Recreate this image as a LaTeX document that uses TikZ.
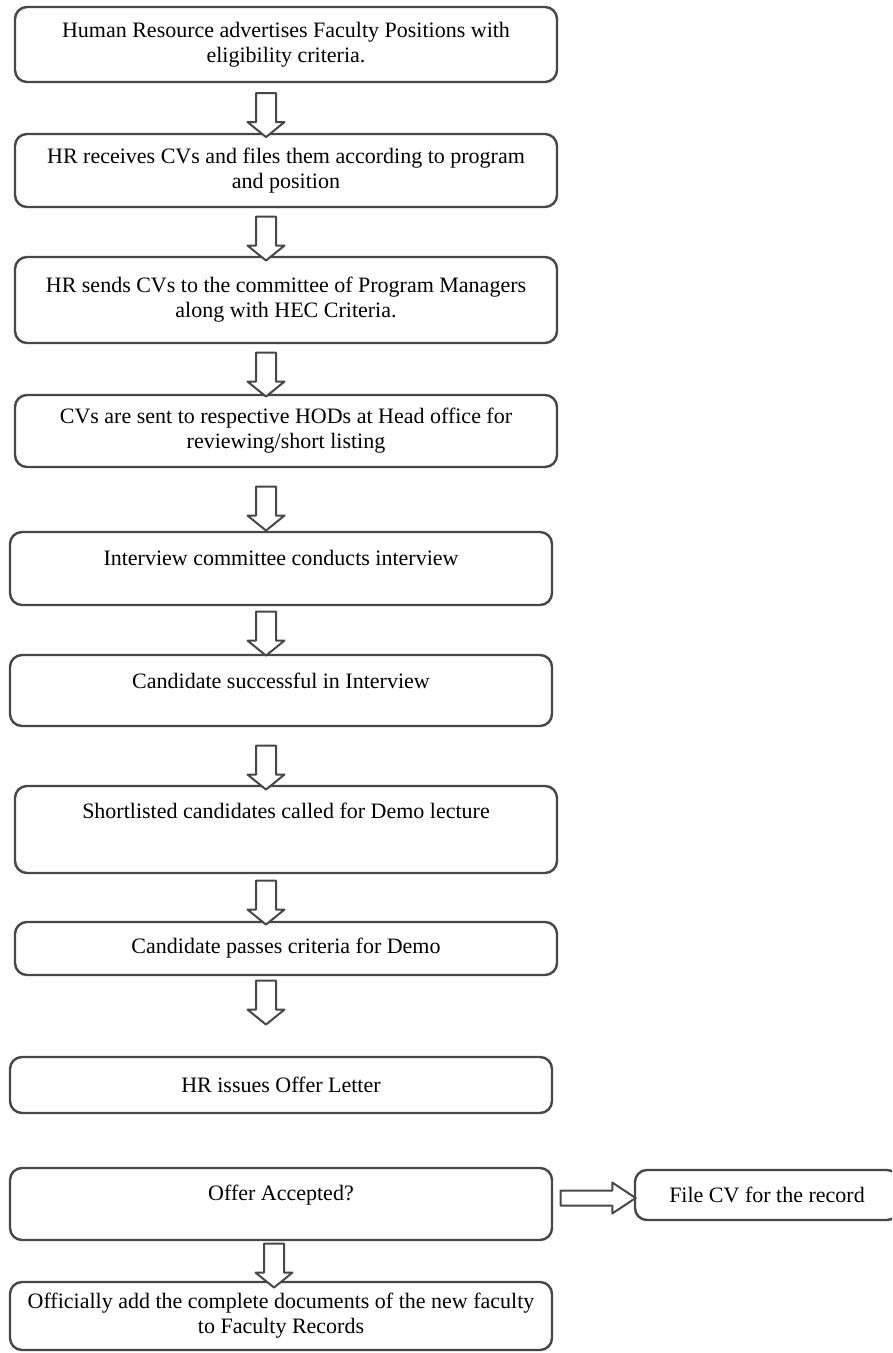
\documentclass[tikz,border=0pt]{standalone}
\usepackage{fontspec}
\setmainfont{Liberation Serif}
\usepackage{tikz}
\usetikzlibrary{calc}
\usetikzlibrary{arrows}
\usetikzlibrary{shapes}

\begin{document}
\begin{tikzpicture}[x=0.5bp,y=-0.5bp,line join=round,
    box/.style={draw=black!72,line width=1.2bp,rounded corners=6bp,fill=white,
        minimum width=271bp,align=center,inner sep=2bp,
        font=\fontsize{11bp}{12.5bp}\selectfont},
    raised/.style={text height=7.7bp,text depth=#1},
    darr/.style={draw=black!72,line width=1bp,fill=white,single arrow,
        shape border rotate=270,minimum width=17.5bp,minimum height=22bp,
        single arrow head extend=4.25bp,single arrow tip angle=102,inner sep=4.5bp},
    rarr/.style={draw=black!72,line width=1bp,fill=white,single arrow,
        minimum width=14.5bp,minimum height=37.5bp,
        single arrow head extend=4bp,single arrow tip angle=67,inner sep=3.25bp}]
    \useasboundingbox (0,0) rectangle (892,1353);
    \clip (0,0) rectangle (892,1353);
    %%
    % Node: advertise
    \node[box,minimum height=37.5bp] (advertise) at (286,44.5)
        {Human Resource advertises Faculty Positions with\\ eligibility criteria.};
    % Node: receive
    \node[box,minimum height=36.5bp] (receive) at (286,170.5)
        {HR receives CVs and files them according to program\\ and position};
    % Node: send
    \node[box,minimum height=43bp] (send) at (286,300)
        {HR sends CVs to the committee of Program Managers\\ along with HEC Criteria.};
    % Node: review
    \node[box,minimum height=36bp] (review) at (286,431)
        {CVs are sent to respective HODs at Head office for\\ reviewing/short listing};
    % Node: interview
    \node[box,raised=10.4bp,minimum height=36.5bp] (interview) at (281,568.5)
        {Interview committee conducts interview};
    % Node: success
    \node[box,raised=9.4bp,minimum height=35.5bp] (success) at (281,690.5)
        {Candidate successful in Interview};
    % Node: demo
    \node[box,raised=18.4bp,minimum height=43.5bp] (demo) at (286,829.5)
        {Shortlisted candidates called for Demo lecture};
    % Node: passes
    \node[box,minimum height=26.5bp] (passes) at (286,948.5)
        {Candidate passes criteria for Demo};
    % Node: offer
    \node[box,minimum height=28bp] (offer) at (281,1085)
        {HR issues Offer Letter};
    % Node: accepted
    \node[box,raised=11.4bp,minimum height=36bp] (accepted) at (281,1204)
        {Offer Accepted?};
    % Node: records
    \node[box,minimum height=34bp] (records) at (281,1316)
        {Officially add the complete documents of the new faculty\\ to Faculty Records};
    % Node: filecv
    \node[box,minimum width=132bp,minimum height=25bp] (filecv) at (767,1195)
        {File CV for the record};
    %
    % Edge: advertise -> receive
    \node[darr] (a1) at (266,111) {};
    % Edge: receive -> send
    \node[darr] (a2) at (266,234.5) {};
    % Edge: send -> review
    \node[darr] (a3) at (266,370.5) {};
    % Edge: review -> interview
    \node[darr] (a4) at (266,504.5) {};
    % Edge: interview -> success
    \node[darr] (a5) at (266,629.5) {};
    % Edge: success -> demo
    \node[darr] (a6) at (266,763.5) {};
    % Edge: demo -> passes
    \node[darr] (a7) at (266,898.5) {};
    % Edge: passes -> offer
    \node[darr] (a8) at (266,998.5) {};
    % Edge: accepted -> records
    \node[darr] (a9) at (274,1261.5) {};
    % Edge: accepted -> filecv
    \node[rarr] (a10) at (592.5,1198) {};
    %
\end{tikzpicture}
\end{document}
